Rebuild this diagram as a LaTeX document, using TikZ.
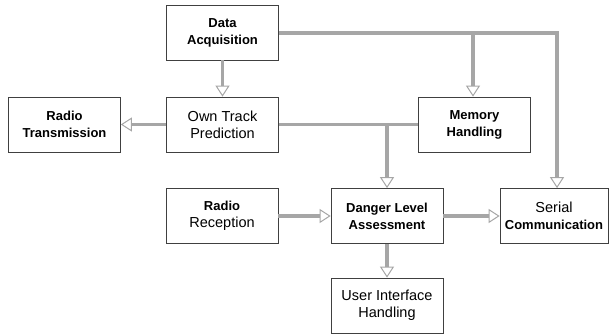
\documentclass[tikz,border=0pt]{standalone}
\usepackage{fontspec}
\setmainfont{Liberation Sans}
\usetikzlibrary{arrows.meta}
\newcommand{\bt}[1]{{\fontsize{13}{17}\selectfont\bfseries #1}}
\begin{document}
\begin{tikzpicture}[x=1pt,y=-1pt,
  box/.style={draw=black!75, line width=0.7pt, minimum width=112pt, minimum height=55pt,
    align=center, inner sep=0pt, font=\fontsize{14.5}{17}\selectfont},
  conn/.style={draw=black!35, line width=3.5pt,
    -{Triangle[open, length=11pt, width=14pt, line width=1pt]}},
  plain/.style={draw=black!35, line width=3.5pt}]
\useasboundingbox (0,0) rectangle (609,334);
\node[box] (da) at (222.5,32.5) {\bt{Data}\\\bt{Acquisition}};
\node[box] (ot) at (222.5,124.5) {Own Track\\Prediction};
\node[box] (rt) at (64.5,124.5) {\bt{Radio}\\\bt{Transmission}};
\node[box] (mh) at (474.5,124.5) {\bt{Memory}\\\bt{Handling}};
\node[box] (rr) at (222,216) {\bt{Radio}\\Reception};
\node[box] (dl) at (387,216) {\bt{Danger Level}\\\bt{Assessment}};
\node[box, minimum width=108pt] (sc) at (554,216) {Serial\\\bt{Communication}};
\node[box] (ui) at (387,305.5) {User Interface\\Handling};
\coordinate (c1) at (557,33);
\coordinate (j1) at (473,33);
\coordinate (j2) at (387,125);
\draw[conn] (da) -- (ot);
\draw[conn] (ot) -- (rt);
\draw[conn] (da.east |- c1) -- (c1) -- (c1 |- sc.north);
\draw[conn] (j1) -- (j1 |- mh.north);
\draw[plain] (ot.east) -- (mh.west);
\draw[conn] (j2) -- (dl);
\draw[conn] (rr) -- (dl);
\draw[conn] (dl) -- (sc);
\draw[conn] (dl) -- (ui);
\end{tikzpicture}
\end{document}
